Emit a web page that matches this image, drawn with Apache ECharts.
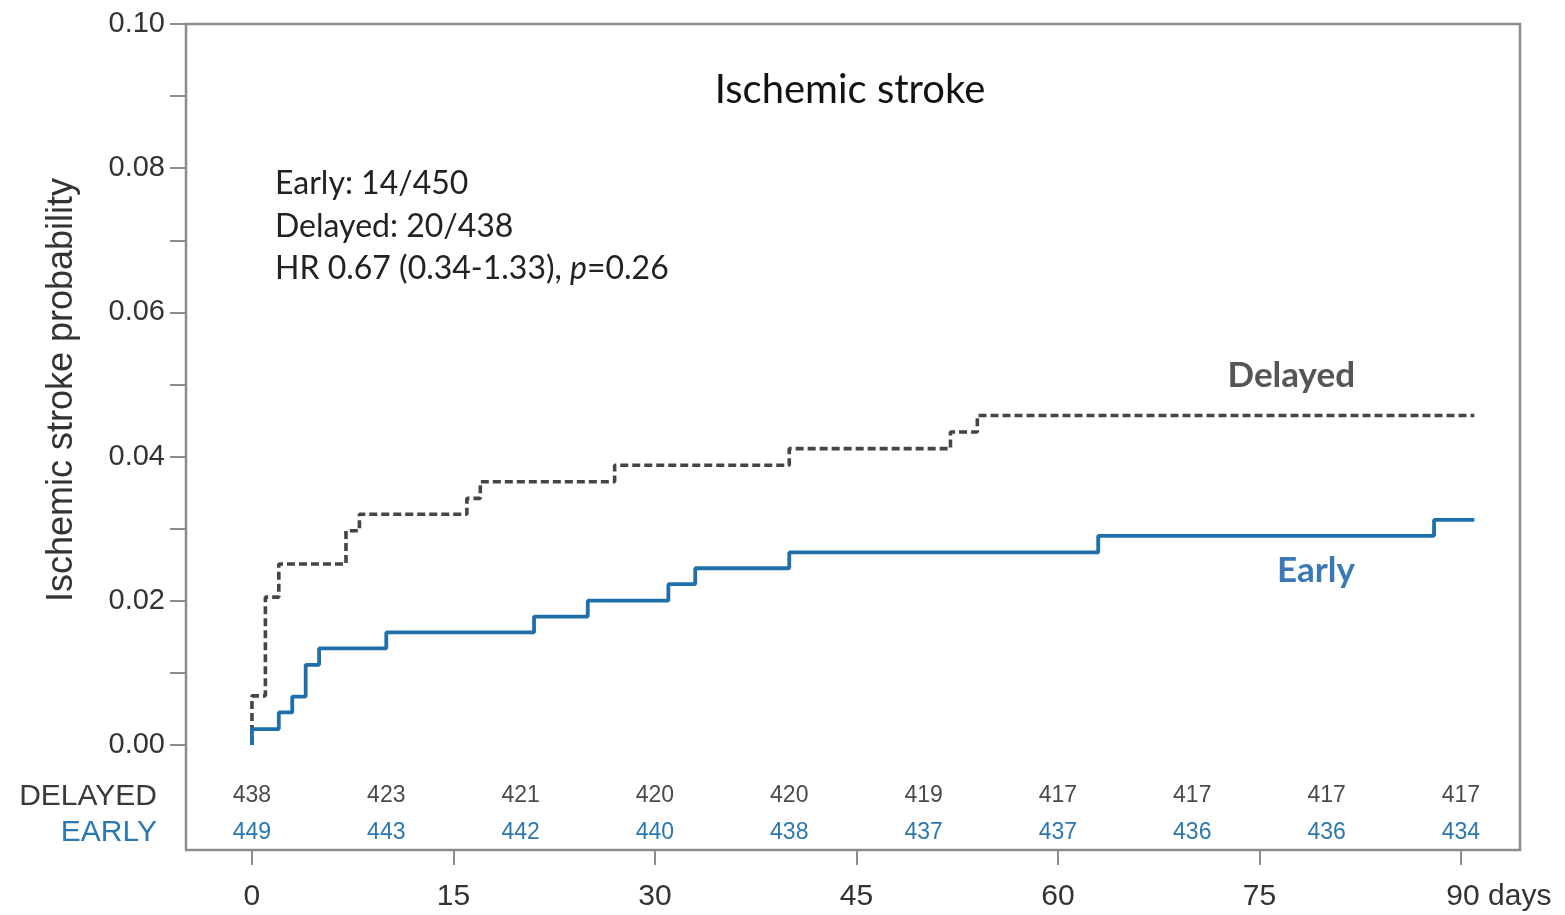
<!DOCTYPE html>
<html>
<head>
<meta charset="utf-8">
<script src="https://cdn.jsdelivr.net/npm/echarts@6/dist/echarts.min.js"></script>
<style>html,body{margin:0;padding:0;background:#fff}#c{width:1565px;height:915px}</style>
</head>
<body>
<div id="c"></div>
<script>
// Kaplan-Meier step data (event days and cumulative probability)
const earlyDays = [0, 0, 2, 3, 4, 5, 10, 21, 25, 31, 33, 40, 63, 88, 91];
const earlyProb = [0, 0.0022, 0.0045, 0.0067, 0.0111, 0.0134, 0.0156, 0.0178, 0.0200, 0.0223, 0.0245, 0.0267, 0.0290, 0.0312, 0.0312];
const delayedDays = [0, 0, 1, 2, 7, 8, 16, 17, 27, 40, 52, 54, 91];
const delayedProb = [0, 0.0068, 0.0205, 0.0251, 0.0297, 0.0320, 0.0342, 0.0365, 0.0388, 0.0411, 0.0434, 0.0457, 0.0457];

// Numbers at risk
const riskDays = [0, 10, 20, 30, 40, 50, 60, 70, 80, 90];
const riskDelayed = [438, 423, 421, 420, 420, 419, 417, 417, 417, 417];
const riskEarly = [449, 443, 442, 440, 438, 437, 437, 436, 436, 434];

// Axis ticks
const xTicks = [0, 15, 30, 45, 60, 75, 90];
const yTicks = [0, 0.01, 0.02, 0.03, 0.04, 0.05, 0.06, 0.07, 0.08, 0.09, 0.10];
const yLabels = [0, 0.02, 0.04, 0.06, 0.08, 0.10];

const chartTitle = 'Ischemic stroke';
const yTitle = 'Ischemic stroke probability';
const statLines = ['Early: 14/450', 'Delayed: 20/438', 'HR 0.67 (0.34-1.33), {i|p}=0.26'];

const BLUE = '#1f6fab';
const GRAY = '#454545';
const ROW_DELAYED_Y = -0.0071;
const ROW_EARLY_Y = -0.0122;

const zip = (a, b) => a.map((v, i) => [v, b[i]]);

const chart = echarts.init(document.getElementById('c'), null, {renderer: 'canvas'});
const axisFont = '"Liberation Sans", Arial, sans-serif';
const noteFont = 'Lato, "Open Sans", sans-serif';

const riskLabel = color => ({
  show: true, position: 'inside', formatter: p => String(p.data.n),
  fontSize: 23, fontFamily: axisFont, color: color,
  textBorderWidth: 0, textBorderColor: 'transparent', opacity: 1
});

chart.setOption({
  animation: false,
  backgroundColor: '#fff',
  grid: {
    left: 186, top: 24, right: 45, bottom: 65,
    show: true, borderColor: '#8c8c8c', borderWidth: 2.5, backgroundColor: 'transparent'
  },
  xAxis: {
    type: 'value', min: -4.91, max: 94.4,
    axisLine: {show: false, onZero: false},
    splitLine: {show: false},
    axisTick: {show: true, customValues: xTicks, length: 15, inside: false, lineStyle: {color: '#8c8c8c', width: 2}},
    axisLabel: {
      customValues: xTicks, margin: 32, color: '#333', fontSize: 30, fontFamily: axisFont,
      formatter: v => v === 90 ? '{p|90}{s| days}' : String(v),
      rich: {
        p: {fontSize: 30, fontFamily: axisFont, color: '#333', padding: [0, 0, 0, 76]},
        s: {fontSize: 30, fontFamily: axisFont, color: '#333'}
      }
    }
  },
  yAxis: {
    type: 'value', min: -0.01458, max: 0.10,
    axisLine: {show: false, onZero: false},
    splitLine: {show: false},
    axisTick: {show: true, customValues: yTicks, length: 16, lineStyle: {color: '#8c8c8c', width: 2}},
    axisLabel: {
      customValues: yLabels, margin: 21, color: '#333', fontSize: 29, fontFamily: axisFont,
      formatter: v => v.toFixed(2)
    }
  },
  series: [
    {
      name: 'Delayed', type: 'line', step: 'end', symbol: 'none',
      data: zip(delayedDays, delayedProb),
      lineStyle: {color: GRAY, width: 3.6, type: [8, 4]}
    },
    {
      name: 'Early', type: 'line', step: 'end', symbol: 'none',
      data: zip(earlyDays, earlyProb),
      lineStyle: {color: BLUE, width: 3.8}
    },
    {
      name: 'riskDelayed', type: 'scatter', symbolSize: 1, itemStyle: {color: 'rgba(255,255,255,0)'},
      data: riskDays.map((d, i) => ({value: [d, ROW_DELAYED_Y], n: riskDelayed[i]})),
      label: riskLabel('#4a4a4a')
    },
    {
      name: 'riskEarly', type: 'scatter', symbolSize: 1, itemStyle: {color: 'rgba(255,255,255,0)'},
      data: riskDays.map((d, i) => ({value: [d, ROW_EARLY_Y], n: riskEarly[i]})),
      label: riskLabel('#2b77b0')
    }
  ],
  graphic: [
    {type: 'text', x: 850, y: 90, style: {text: chartTitle, font: '40px ' + noteFont, fill: '#111',
      align: 'center', verticalAlign: 'middle', textAlign: 'center', textVerticalAlign: 'middle'}},
    {type: 'text', x: 62, y: 390, rotation: Math.PI / 2, style: {text: yTitle, font: '36px ' + axisFont, fill: '#333',
      align: 'center', verticalAlign: 'middle', textAlign: 'center', textVerticalAlign: 'middle'}},
    ...statLines.map((t, i) => ({type: 'text', x: 275, y: 184 + i * 42.5, style: {
      text: t, font: '32px ' + noteFont, fill: '#222',
      align: 'left', verticalAlign: 'middle', textAlign: 'left', textVerticalAlign: 'middle',
      rich: {i: {fontStyle: 'italic', fontSize: 32, fontFamily: 'Lato, "Open Sans", sans-serif', fill: '#222', color: '#222'}}
    }})),
    {type: 'text', x: 1355, y: 376, style: {text: 'Delayed', font: 'bold 35px ' + noteFont, fill: '#555',
      align: 'right', verticalAlign: 'middle', textAlign: 'right', textVerticalAlign: 'middle'}},
    {type: 'text', x: 1355, y: 571, style: {text: 'Early', font: 'bold 35px ' + noteFont, fill: '#3a78b8',
      align: 'right', verticalAlign: 'middle', textAlign: 'right', textVerticalAlign: 'middle'}},
    {type: 'text', x: 157, y: 797, style: {text: 'DELAYED', font: '30px ' + axisFont, fill: '#3a3a3a',
      align: 'right', verticalAlign: 'middle', textAlign: 'right', textVerticalAlign: 'middle'}},
    {type: 'text', x: 157, y: 833, style: {text: 'EARLY', font: '30px ' + axisFont, fill: '#2a78b4',
      align: 'right', verticalAlign: 'middle', textAlign: 'right', textVerticalAlign: 'middle'}}
  ]
});
</script>
</body>
</html>
